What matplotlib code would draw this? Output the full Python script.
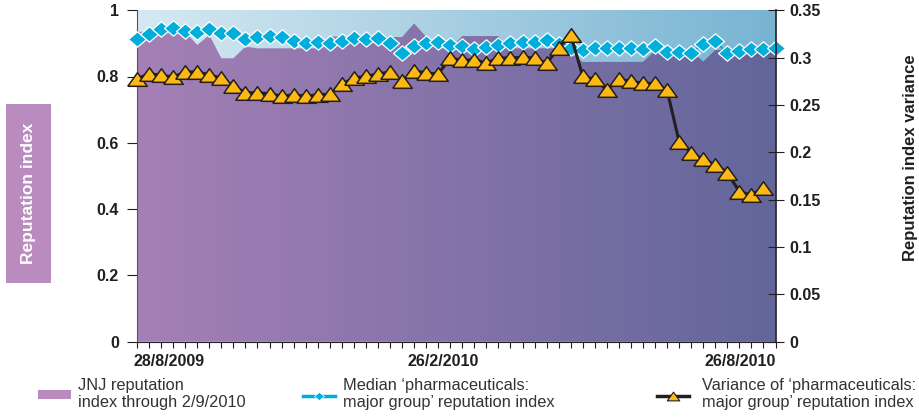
import numpy as np
import matplotlib.pyplot as plt
from matplotlib.colors import LinearSegmentedColormap
from matplotlib.patches import Polygon, Rectangle
from matplotlib.lines import Line2D
import matplotlib.transforms as mtransforms

plt.rcParams['font.family'] = ['Liberation Sans', 'DejaVu Sans']

# weekly points, 28/8/2009 .. 2/9/2010
weeks = np.arange(54)

jnj_index = [0.935, 0.935, 0.935, 0.935, 0.935, 0.895, 0.925, 0.855, 0.855, 0.890,
             0.885, 0.885, 0.885, 0.885, 0.885, 0.885, 0.922, 0.919, 0.919, 0.919,
             0.919, 0.919, 0.919, 0.960, 0.920, 0.885, 0.885, 0.922, 0.922, 0.922,
             0.922, 0.885, 0.885, 0.885, 0.885, 0.885, 0.870, 0.844, 0.844, 0.844,
             0.844, 0.844, 0.844, 0.878, 0.877, 0.877, 0.877, 0.845, 0.880, 0.880,
             0.877, 0.877, 0.877, 0.871]

median_index = [0.912, 0.927, 0.942, 0.945, 0.938, 0.935, 0.942, 0.930, 0.930, 0.912,
                0.920, 0.922, 0.918, 0.907, 0.900, 0.905, 0.900, 0.907, 0.916, 0.912,
                0.915, 0.900, 0.872, 0.891, 0.901, 0.904, 0.894, 0.892, 0.884, 0.890,
                0.896, 0.902, 0.905, 0.903, 0.909, 0.898, 0.887, 0.880, 0.887, 0.887,
                0.887, 0.887, 0.884, 0.891, 0.875, 0.873, 0.870, 0.899, 0.906, 0.870,
                0.878, 0.884, 0.884, 0.887]

variance = [0.2774, 0.2830, 0.2813, 0.2795, 0.2848, 0.2848, 0.2819, 0.2781, 0.2700, 0.2629,
            0.2629, 0.2618, 0.2594, 0.2605, 0.2594, 0.2605, 0.2615, 0.2721, 0.2784, 0.2802,
            0.2826, 0.2848, 0.2749, 0.2861, 0.2837, 0.2826, 0.2995, 0.2971, 0.2977, 0.2942,
            0.2995, 0.2995, 0.3003, 0.2995, 0.2939, 0.3101, 0.3241, 0.2802, 0.2770, 0.2657,
            0.2774, 0.2749, 0.2728, 0.2728, 0.2657, 0.2112, 0.1992, 0.1927, 0.1866, 0.1786,
            0.1584, 0.1549, 0.1620]

left_ticks = [0, 0.2, 0.4, 0.6, 0.8, 1]
left_labels = ['0', '0.2', '0.4', '0.6', '0.8', '1']
right_ticks = [0, 0.05, 0.1, 0.15, 0.2, 0.25, 0.3, 0.35]
right_labels = ['0', '0.05', '0.1', '0.15', '0.2', '0.25', '0.3', '0.35']
date_labels = ['28/8/2009', '26/2/2010', '26/8/2010']
date_pos = [2.7, 25.4, 50.1]

dark = '#231f20'
cyan = '#00aedb'
gold = '#fdb913'
lilac = '#b98bbf'

tri = [(-1, -0.7), (1, -0.7), (0, 0.7), (-1, -0.7)]
dia = [(-1, 0), (0, 0.85), (1, 0), (0, -0.85), (-1, 0)]

fig = plt.figure(figsize=(9.19, 4.18), dpi=100)
ax = fig.add_axes([137 / 919, 1 - 341.7 / 418, 638.5 / 919, 331.5 / 418])
ax2 = ax.twinx()

# gradient background and gradient-filled JNJ area
grad = np.linspace(0, 1, 256).reshape(1, -1)
bg_cmap = LinearSegmentedColormap.from_list('bg', ['#d6e9f2', '#78b4d2'])
pu_cmap = LinearSegmentedColormap.from_list('pu', ['#a580b6', '#62669b'])
ax.imshow(grad, cmap=bg_cmap, extent=[0, 53, 0, 1], aspect='auto', zorder=0)
area = Polygon(list(zip(weeks, jnj_index)) + [(weeks[-1], 0), (0, 0)],
               closed=True, facecolor='none', edgecolor='none')
ax.add_patch(area)
im = ax.imshow(grad, cmap=pu_cmap, extent=[0, 53, 0, 1], aspect='auto', zorder=1)
im.set_clip_path(area)

ax.plot(weeks, median_index, color=cyan, lw=1.5, marker=dia, ms=13,
        mfc=cyan, mec='white', mew=0.9, zorder=3, clip_on=False)
ax2.plot(weeks[:len(variance)], variance, color=dark, lw=2.2, marker=tri, ms=14,
         mfc=gold, mec=dark, mew=1.1, zorder=3, clip_on=False)

ax.set_xlim(0, 53)
ax.set_ylim(0, 1)
ax2.set_ylim(0, 0.35)

ax.set_xticks(weeks)
ax.set_xticklabels([])
ax.tick_params(axis='x', direction='out', length=4, width=0.8, color=dark)
ax.set_yticks(left_ticks)
ax.set_yticklabels(left_labels)
ax.tick_params(axis='y', direction='out', length=7, width=0.8, color=dark, pad=6,
               labelsize=11.5, labelcolor=dark)
for t in ax.get_yticklabels():
    t.set_fontweight('bold')
ax2.set_yticks(right_ticks)
ax2.set_yticklabels(right_labels)
ax2.tick_params(axis='y', direction='inout', length=12, width=0.8, color=dark, pad=4,
                labelsize=11.5, labelcolor=dark)
for t in ax2.get_yticklabels():
    t.set_fontweight('bold')

for s in ['top', 'right']:
    ax.spines[s].set_visible(False)
for s in ['top', 'left', 'bottom']:
    ax2.spines[s].set_visible(False)
ax.spines['left'].set_color('#555555')
ax.spines['bottom'].set_color(dark)
ax2.spines['right'].set_color(dark)
ax2.spines['right'].set_linewidth(1.2)

trans = mtransforms.blended_transform_factory(ax.transData, ax.transAxes)
for pos, lab in zip(date_pos, date_labels):
    ax.text(pos, -0.061, lab, transform=trans, ha='center', va='center',
            fontsize=11.5, fontweight='bold', color=dark)

# axis titles
fig.add_artist(Rectangle((6 / 919, 1 - 283 / 418), 45 / 919, 179 / 418,
                         transform=fig.transFigure, facecolor=lilac, edgecolor='none'))
fig.text(28.5 / 919, 1 - 193.5 / 418, 'Reputation index', rotation=90, ha='center',
         va='center', color='white', fontweight='bold', fontsize=12.5)
fig.text(910 / 919, 1 - 158 / 418, 'Reputation index variance', rotation=90,
         ha='center', va='center', color=dark, fontweight='bold', fontsize=12)

# legend
ly = 1 - 396 / 418
fig.add_artist(Rectangle((38 / 919, 1 - 399 / 418), 33 / 919, 9 / 418,
                         transform=fig.transFigure, facecolor=lilac, edgecolor='none'))
fig.add_artist(Line2D([303 / 919, 335 / 919], [ly, ly], color=cyan, lw=2.5,
                      transform=fig.transFigure))
fig.add_artist(Line2D([319 / 919], [ly], marker=dia, ms=7, mfc=cyan, mec='white',
                      mew=0.5, color=cyan, transform=fig.transFigure))
fig.add_artist(Line2D([657 / 919, 689 / 919], [ly, ly], color=dark, lw=2.5,
                      transform=fig.transFigure))
fig.add_artist(Line2D([673 / 919], [ly], marker=tri, ms=9, mfc=gold, mec=dark,
                      mew=0.8, color=dark, transform=fig.transFigure))
legend_texts = ['JNJ reputation\nindex through 2/9/2010',
                'Median \u2018pharmaceuticals:\nmajor group\u2019 reputation index',
                'Variance of \u2018pharmaceuticals:\nmajor group\u2019 reputation index']
for x, txt in zip([78, 343, 702], legend_texts):
    fig.text(x / 919, 1 - 394 / 418, txt, ha='left', va='center', fontsize=11.8,
             color='#333333', linespacing=1.2)

fig.savefig('out.png', dpi=100)
